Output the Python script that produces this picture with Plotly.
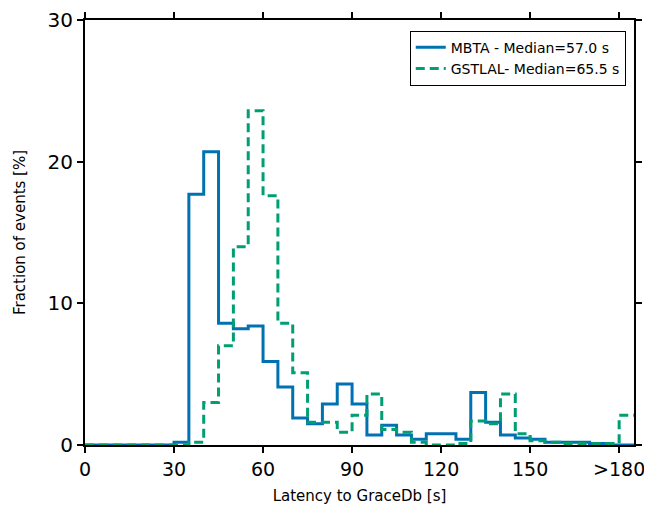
import plotly.graph_objects as go

edges = list(range(0, 190, 5))
mbta = [0,0,0,0,0,0,0.2,17.7,20.7,8.6,8.2,8.4,5.9,4.1,1.9,1.5,2.9,4.3,2.9,0.7,1.4,0.7,0.4,0.8,0.8,0.4,3.7,1.6,0.7,0.5,0.4,0.2,0.2,0.2,0.1,0.0,0.0]
gstlal = [0,0,0,0,0,0,0,0.2,3.0,7.0,14.0,23.6,17.6,8.6,5.1,1.6,1.6,0.9,2.1,3.6,1.1,0.9,0.2,0,0,0.1,1.7,1.5,3.6,0.8,0.3,0.2,0.1,0.1,0.1,0.1,2.1]

def steps(vals):
    return edges, vals + [vals[-1]]

fig = go.Figure()
x, y = steps(mbta)
fig.add_trace(go.Scatter(x=x, y=y, mode="lines", line=dict(shape="hv", color="#0072b2", width=3),
                         name="MBTA - Median=57.0 s"))
x, y = steps(gstlal)
fig.add_trace(go.Scatter(x=x, y=y, mode="lines", line=dict(shape="hv", color="#009e73", width=3, dash="9px,5px"),
                         name="GSTLAL- Median=65.5 s"))

ax = dict(showline=True, linecolor="black", linewidth=2, mirror="ticks", ticks="outside",
          ticklen=6, tickwidth=2, tickcolor="black", showgrid=False, zeroline=False,
          tickfont=dict(size=20, color="black"), automargin=False, ticklabeloverflow="allow")
fig.update_layout(
    width=652, height=516, plot_bgcolor="white", paper_bgcolor="white",
    margin=dict(l=77, r=26, t=12, b=79),
    font=dict(family="DejaVu Sans", color="black"),
    xaxis=dict(ax, range=[0, 185], tickvals=[0,30,60,90,120,150,180],
               ticktext=["0","30","60","90","120","150",">180"],
               tickfont=dict(size=19, color="black"),
               title=dict(text="Latency to GraceDb [s]", font=dict(size=15), standoff=12)),
    yaxis=dict(ax, range=[0, 30], tickvals=[0,10,20,30],
               title=dict(text="Fraction of events [%]", font=dict(size=15), standoff=18)),
    legend=dict(x=0.985, y=0.975, xanchor="right", yanchor="top", bordercolor="black",
                borderwidth=1, font=dict(size=14), bgcolor="white"),
)
fig.write_html("out.html")
